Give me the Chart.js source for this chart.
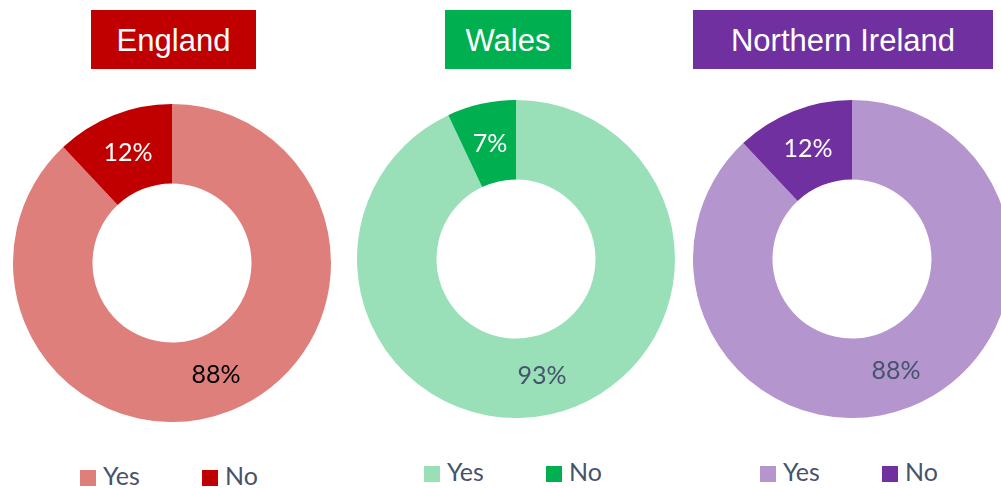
<!DOCTYPE html>
<html>
<head>
<meta charset="utf-8">
<script src="https://cdn.jsdelivr.net/npm/chart.js@4"></script>
<style>
  html, body { margin: 0; padding: 0; background: #fff; }
  body { width: 1001px; height: 488px; position: relative; overflow: hidden; }
  .title { position: absolute; top: 10px; height: 59px; color: #fff; font-family: "Liberation Sans", Arial, sans-serif;
           font-size: 31px; display: flex; align-items: center; justify-content: center; padding-top: 2px; box-sizing: border-box; }
  .pie { position: absolute; width: 318px; height: 318px; }
  .legend { position: absolute; font-family: Lato, "Open Sans", sans-serif; font-size: 25px; color: #44546A; height: 20px; }
  .legend span.item { position: absolute; top: 0; white-space: nowrap; line-height: 20px; }
  .legend i { display: inline-block; width: 16px; height: 16px; margin-right: 7px; vertical-align: -1px; }
</style>
</head>
<body>
<div class="title" style="left:91px;width:165px;background:#C00000">England</div>
<div class="title" style="left:445px;width:126px;background:#00B050">Wales</div>
<div class="title" style="left:693px;width:300px;background:#7030A0">Northern Ireland</div>

<div class="pie" style="left:13px;top:104px"><canvas id="c0"></canvas></div>
<div class="pie" style="left:357px;top:100px"><canvas id="c1"></canvas></div>
<div class="pie" style="left:693px;top:100px"><canvas id="c2"></canvas></div>

<div class="legend" id="l0" style="left:80px;top:465px"></div>
<div class="legend" id="l1" style="left:424px;top:461px"></div>
<div class="legend" id="l2" style="left:760px;top:461px"></div>

<script>
// answers
const categories = ['Yes', 'No'];
const regions = ['England', 'Wales', 'Northern Ireland'];
const englandValues = [88, 12];
const walesValues = [93, 7];
const niValues = [88, 12];

const allValues = [englandValues, walesValues, niValues];
const sliceColors = [
  ['#DF7F7C', '#C00000'],
  ['#99E0B9', '#00B050'],
  ['#B595CE', '#7030A0']
];
const labelColors = [
  ['#000000', '#FFFFFF'],
  ['#44546A', '#FFFFFF'],
  ['#44546A', '#FFFFFF']
];

// etiquetas de porcentaje en el centro de cada arco
const pctLabels = {
  id: 'pctLabels',
  afterDatasetsDraw(chart) {
    const ctx = chart.ctx;
    const ds = chart.data.datasets[0];
    chart.getDatasetMeta(0).data.forEach((arc, i) => {
      const p = arc.tooltipPosition();
      ctx.save();
      ctx.font = '25px Lato, "Open Sans", sans-serif';
      ctx.fillStyle = ds.labelColors[i];
      ctx.textAlign = 'center';
      ctx.textBaseline = 'middle';
      ctx.fillText(ds.data[i] + '%', p.x, p.y + 1);
      ctx.restore();
    });
  }
};

allValues.forEach((values, k) => {
  new Chart(document.getElementById('c' + k), {
    type: 'doughnut',
    data: {
      labels: categories,
      datasets: [{
        label: regions[k],
        data: values,
        backgroundColor: sliceColors[k],
        borderWidth: 0,
        labelColors: labelColors[k]
      }]
    },
    options: {
      responsive: true,
      maintainAspectRatio: false,
      animation: false,
      cutout: '50%',
      layout: { padding: 0 },
      plugins: {
        legend: { display: false },
        tooltip: { enabled: false }
      }
    },
    plugins: [pctLabels]
  });

  const leg = document.getElementById('l' + k);
  leg.innerHTML = categories.map((c, i) =>
    `<span class="item" style="left:${i * 122}px"><i style="background:${sliceColors[k][i]}"></i>${c}</span>`
  ).join('');
});
</script>
</body>
</html>
